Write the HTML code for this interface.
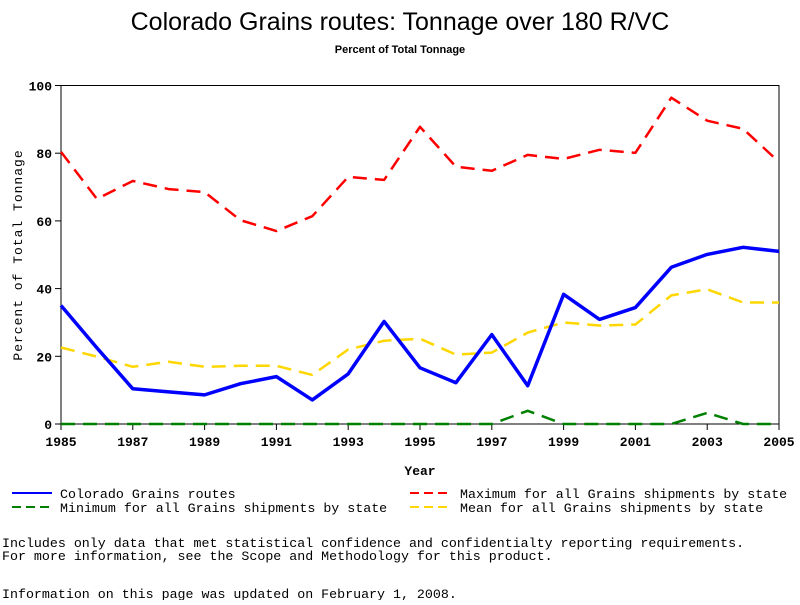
<!DOCTYPE html>
<html><head><meta charset="utf-8"><style>
body{margin:0;background:#fff;width:800px;height:600px;overflow:hidden}
svg text{font-family:"Liberation Mono",monospace}
</style></head><body>
<svg width="800" height="600" xmlns="http://www.w3.org/2000/svg">
<text x="400" y="30" text-anchor="middle" font-size="25" style="font-family:'Liberation Sans',sans-serif">Colorado Grains routes: Tonnage over 180 R/VC</text>
<text x="400" y="53" text-anchor="middle" font-size="11" font-weight="bold" style="font-family:'Liberation Sans',sans-serif">Percent of Total Tonnage</text>
<g id="plot"></g>
<text x="420" y="475" text-anchor="middle" font-size="13" font-weight="bold">Year</text>
<text transform="translate(22,255) rotate(-90)" text-anchor="middle" font-size="13" letter-spacing="1">Percent of Total Tonnage</text>
<g font-size="13.3">
<g><line x1="12" y1="493" x2="52" y2="493" stroke="#0000ff" stroke-width="2"/><text x="60" y="498">Colorado Grains routes</text></g>
<g><line x1="12" y1="507" x2="52" y2="507" stroke="#008000" stroke-width="2" stroke-dasharray="9,5"/><text x="60" y="512">Minimum for all Grains shipments by state</text></g>
<g><line x1="410" y1="493" x2="452" y2="493" stroke="#ff0000" stroke-width="2" stroke-dasharray="9,5"/><text x="460" y="498">Maximum for all Grains shipments by state</text></g>
<g><line x1="410" y1="507" x2="452" y2="507" stroke="#ffd700" stroke-width="2" stroke-dasharray="9,5"/><text x="460" y="512">Mean for all Grains shipments by state</text></g>
<text x="2" y="547">Includes only data that met statistical confidence and confidentialty reporting requirements.</text>
<text x="2" y="560">For more information, see the Scope and Methodology for this product.</text>
<text x="2" y="598">Information on this page was updated on February 1, 2008.</text>
</g>
</svg>
<script>
const years=[1985,1986,1987,1988,1989,1990,1991,1992,1993,1994,1995,1996,1997,1998,1999,2000,2001,2002,2003,2004,2005];
const colorado=[35,22.5,10.4,9.5,8.6,11.9,14,7.1,14.8,30.3,16.6,12.2,26.4,11.3,38.3,30.9,34.4,46.3,50.1,52.2,51];
const maximum=[80.4,66.5,71.8,69.4,68.5,60.2,57,61.4,73,72.1,87.8,76,74.8,79.5,78.3,81,80.1,96.4,89.6,87.2,77.4];
const mean=[22.6,19.9,16.9,18.4,16.9,17.2,17.2,14.5,22,24.6,25.2,20.5,21.1,27,30,29.1,29.4,38,39.8,35.9,35.9];
const minimum=[0,0,0,0,0,0,0,0,0,0,0,0,0,3.9,0,0,0,0,3.3,0,0];
const xTicks=[1985,1987,1989,1991,1993,1995,1997,1999,2001,2003,2005];
const yTicks=[0,20,40,60,80,100];
const L=61,R=779,T=85.5,B=424;
const x=v=>L+(v-1985)/(2005-1985)*(R-L);
const y=v=>B-v/100*(B-T);
const NS="http://www.w3.org/2000/svg";
const g=document.getElementById('plot');
function mk(t,a){const e=document.createElementNS(NS,t);for(const k in a)e.setAttribute(k,a[k]);g.appendChild(e);return e;}
const frame=mk('rect',{x:L,y:T,width:R-L,height:B-T,fill:'none',stroke:'#000','stroke-width':1});


xTicks.forEach(v=>{
 const tk=mk('line',{x1:x(v),x2:x(v),y1:B,y2:B+6,stroke:'#000'});
 
 
 const t=mk('text',{x:x(v),y:B+22,'text-anchor':'middle','font-size':13,'font-weight':'bold'});t.textContent=v;
 
 
});
yTicks.forEach(v=>{
 const tk=mk('line',{x1:L-6,x2:L,y1:y(v),y2:y(v),stroke:'#000'});
 
 
 const t=mk('text',{x:L-9,y:y(v)+5,'text-anchor':'end','font-size':13,'font-weight':'bold'});t.textContent=v;
 
 
});
function series(d,c,w,dash,name){
 const p=mk('polyline',{points:d.map((v,i)=>x(years[i])+','+y(v)).join(' '),fill:'none',stroke:c,'stroke-width':w,'stroke-dasharray':dash,'stroke-linejoin':'round'});
 
 
}
series(maximum,'#ff0000',2.5,'14,8','series-maximum');
series(mean,'#ffd700',2.5,'14,8','series-mean');
series(minimum,'#008000',2.5,'14,8','series-minimum');
series(colorado,'#0000ff',3.5,'none','series-colorado');
</script>
</body></html>
